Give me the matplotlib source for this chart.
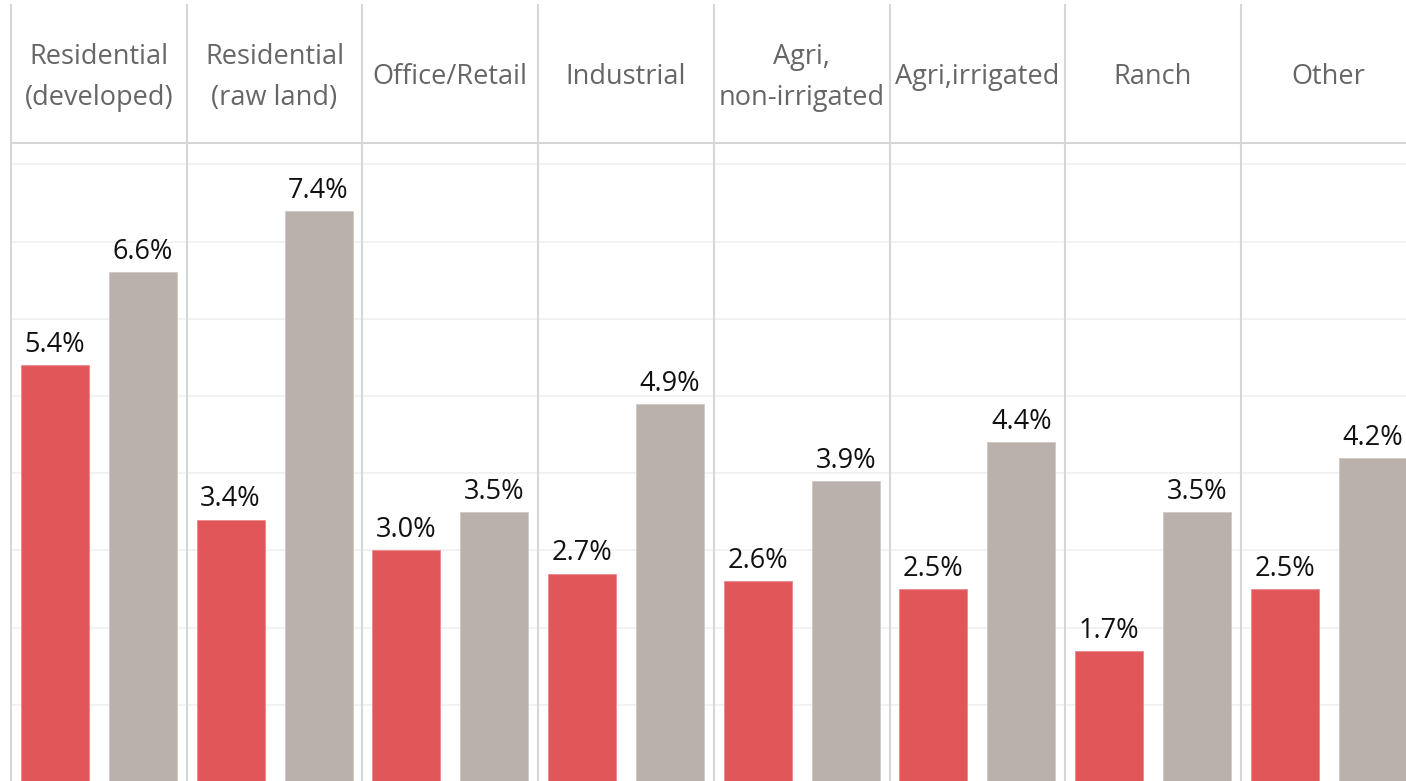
import matplotlib
matplotlib.use("Agg")
import matplotlib.pyplot as plt
import numpy as np

plt.rcParams['font.family'] = ['Open Sans', 'DejaVu Sans']

categories = ["Residential\n(developed)", "Residential\n(raw land)", "Office/Retail",
              "Industrial", "Agri,\nnon-irrigated", "Agri,irrigated", "Ranch", "Other"]
series_a = [5.4, 3.4, 3.0, 2.7, 2.6, 2.5, 1.7, 2.5]
series_b = [6.6, 7.4, 3.5, 4.9, 3.9, 4.4, 3.5, 4.2]

W, H = 1406, 781
fig = plt.figure(figsize=(W / 100, H / 100), dpi=100)

panel_w = 175.7
left_px = 11
n = len(categories)
ax_w = panel_w * n
px_per_unit = 77.2
base_y = 782
top_main = 143
top_head = 5

ax = fig.add_axes([left_px / W, (H - base_y) / H, ax_w / W, (base_y - top_main) / H])
hx = fig.add_axes([left_px / W, (H - top_main) / H, ax_w / W, (top_main - top_head) / H])

red = '#E15759'
gray = '#BAB0AC'
sep_color = '#d6d6d6'
grid_color = '#f0f0f0'

x = np.arange(n)
off = 0.2504
bw = 68 / panel_w
ax.bar(x - off, series_a, width=bw, color=red, edgecolor='#ea8a8c', linewidth=0.6, zorder=3)
ax.bar(x + off, series_b, width=bw, color=gray, edgecolor='#cfc8c5', linewidth=0.6, zorder=3)

for xi, v in zip(x - off, series_a):
    ax.annotate(f"{v:.1f}%", (xi, v), xytext=(0, 9.5), textcoords='offset points',
                ha='center', va='baseline', fontsize=19.5, color='#111111', zorder=4)
for xi, v in zip(x + off, series_b):
    ax.annotate(f"{v:.1f}%", (xi, v), xytext=(0, 9.5), textcoords='offset points',
                ha='center', va='baseline', fontsize=19.5, color='#111111', zorder=4,
                annotation_clip=False)

ymax = (base_y - top_main) / px_per_unit
ax.set_xlim(-0.5, n - 0.5)
ax.set_ylim(0, ymax)
for g in range(1, 9):
    ax.axhline(g, color=grid_color, lw=1.2, zorder=1)
for b in range(n + 1):
    ax.axvline(b - 0.5, color=sep_color, lw=1.5, zorder=2, clip_on=False)
ax.set_xticks([])
ax.set_yticks([])
for s in ax.spines.values():
    s.set_visible(False)

hx.set_xlim(-0.5, n - 0.5)
hx.set_ylim(0, 1)
for b in range(n + 1):
    hx.axvline(b - 0.5, color=sep_color, lw=1.5, clip_on=False)
hx.axhline(0, color=sep_color, lw=1.5, clip_on=False)
for i, c in enumerate(categories):
    hx.text(i, 0.475, c, ha='center', va='center', fontsize=19.5, color='#666666',
            linespacing=1.6)
hx.set_xticks([])
hx.set_yticks([])
for s in hx.spines.values():
    s.set_visible(False)

fig.savefig("out.png", dpi=100)
